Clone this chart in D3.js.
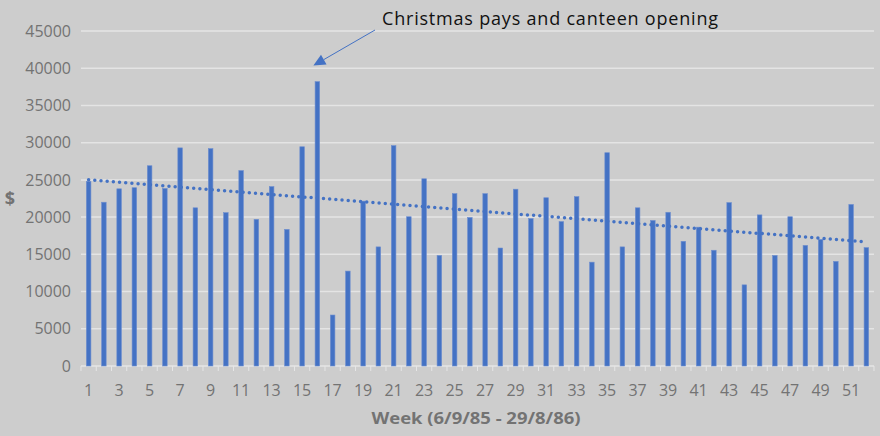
<!DOCTYPE html>
<html>
<head>
<meta charset="utf-8">
<script src="https://cdn.jsdelivr.net/npm/d3@7"></script>
<style>
  body { margin: 0; background: #cdcdcd; }
  svg { display: block; }
  text { font-family: "Open Sans", "Noto Sans", sans-serif; }
</style>
</head>
<body>
<svg id="chart" width="880" height="436"></svg>
<script>
// weekly takings, week 1..52
const weeks = d3.range(1, 53);
const takings = [
  24800, 22000, 23800, 23950, 26900, 23850, 29300, 21250, 29200, 20600,
  26250, 19700, 24100, 18350, 29450, 38200, 6850, 12750, 22150, 16000,
  29600, 20050, 25150, 14850, 23150, 19950, 23150, 15850, 23750, 19800,
  22600, 19400, 22750, 13950, 28650, 16000, 21250, 19550, 20650, 16750,
  18650, 15550, 21950, 10900, 20300, 14850, 20050, 16200, 17000, 14050,
  21700, 15900
];
const yTicks = [0, 5000, 10000, 15000, 20000, 25000, 30000, 35000, 40000, 45000];
const xTickLabels = weeks.filter(w => w % 2 === 1);
const annotation = "Christmas pays and canteen opening";
const peakWeek = 16;

const svg = d3.select("#chart");
const plotL = 81, plotR = 874, plotT = 31, plotB = 366;

const x = d3.scaleBand().domain(weeks).range([plotL, plotR]).paddingInner(0.7).paddingOuter(0.35);
const y = d3.scaleLinear().domain([0, 45000]).range([plotB, plotT]);

// gridlines
svg.append("g")
  .selectAll("line")
  .data(yTicks)
  .join("line")
  .attr("x1", plotL).attr("x2", plotR)
  .attr("y1", d => y(d)).attr("y2", d => y(d))
  .attr("stroke", "#e4e4e4")
  .attr("stroke-width", 1.5);

// y axis labels
const yAxis = svg.append("g")
  .attr("transform", `translate(${plotL - 10},0)`)
  .call(d3.axisLeft(y).tickValues(yTicks).tickSize(0).tickPadding(0).tickFormat(d3.format("d")));
yAxis.select(".domain").remove();
yAxis.selectAll("text")
  .attr("fill", "#737373")
  .style("font-size", "16px");

// x axis ticks (between categories)
const step = x.step();
svg.append("g")
  .selectAll("line")
  .data(d3.range(weeks.length + 1))
  .join("line")
  .attr("x1", i => plotL + i * step).attr("x2", i => plotL + i * step)
  .attr("y1", plotB).attr("y2", plotB + 5)
  .attr("stroke", "#e6e6e6")
  .attr("stroke-width", 1);

// x labels
svg.append("g")
  .selectAll("text")
  .data(xTickLabels)
  .join("text")
  .attr("x", d => x(d) + x.bandwidth() / 2)
  .attr("y", 396)
  .attr("text-anchor", "middle")
  .attr("fill", "#737373")
  .style("font-size", "16px")
  .text(d => d);

// bars
svg.append("g")
  .selectAll("rect")
  .data(weeks)
  .join("rect")
  .attr("x", d => x(d))
  .attr("width", x.bandwidth())
  .attr("y", (d, i) => y(takings[i]))
  .attr("height", (d, i) => plotB - y(takings[i]))
  .attr("fill", "#4472c4")
  .attr("stroke", "#6f8fcf")
  .attr("stroke-width", 0.6);

// linear trendline
const mx = d3.mean(weeks), my = d3.mean(takings);
const slope = d3.sum(weeks, (w, i) => (w - mx) * (takings[i] - my)) / d3.sum(weeks, w => (w - mx) ** 2);
const icpt = my - slope * mx;
const cx = w => x(w) + x.bandwidth() / 2;
svg.append("line")
  .attr("x1", cx(1)).attr("y1", y(icpt + slope * 1))
  .attr("x2", cx(52)).attr("y2", y(icpt + slope * 52))
  .attr("stroke", "#4472c4")
  .attr("stroke-width", 3.5)
  .attr("stroke-linecap", "round")
  .attr("stroke-dasharray", "0 6.2");

// annotation
svg.append("text")
  .attr("x", 382).attr("y", 25)
  .attr("fill", "#111")
  .style("font-size", "18px")
  .attr("textLength", 336)
  .attr("lengthAdjust", "spacing")
  .text(annotation);

const tipX = cx(peakWeek) - 4, tipY = y(takings[peakWeek - 1]) - 16;
const sx = 375, sy = 30;
const ang = Math.atan2(tipY - sy, tipX - sx);
const headLen = 12, headW = 5.5;
const bx = tipX - headLen * Math.cos(ang), by = tipY - headLen * Math.sin(ang);
svg.append("line")
  .attr("x1", sx).attr("y1", sy).attr("x2", bx).attr("y2", by)
  .attr("stroke", "#4472c4").attr("stroke-width", 1);
svg.append("path")
  .attr("d", d3.line()([
    [tipX, tipY],
    [bx + headW * Math.sin(ang), by - headW * Math.cos(ang)],
    [bx - headW * Math.sin(ang), by + headW * Math.cos(ang)]
  ]) + "Z")
  .attr("fill", "#4472c4");

// axis titles
svg.append("text")
  .attr("x", 10).attr("y", 205)
  .attr("text-anchor", "middle")
  .attr("fill", "#737373")
  .style("font-size", "18px").style("font-weight", "bold")
  .text("$");

svg.append("text")
  .attr("x", 476).attr("y", 424)
  .attr("text-anchor", "middle")
  .attr("fill", "#737373")
  .style("font-size", "16px").style("font-weight", "bold")
  .attr("textLength", 209)
  .attr("lengthAdjust", "spacingAndGlyphs")
  .text("Week (6/9/85 - 29/8/86)");
</script>
</body>
</html>
